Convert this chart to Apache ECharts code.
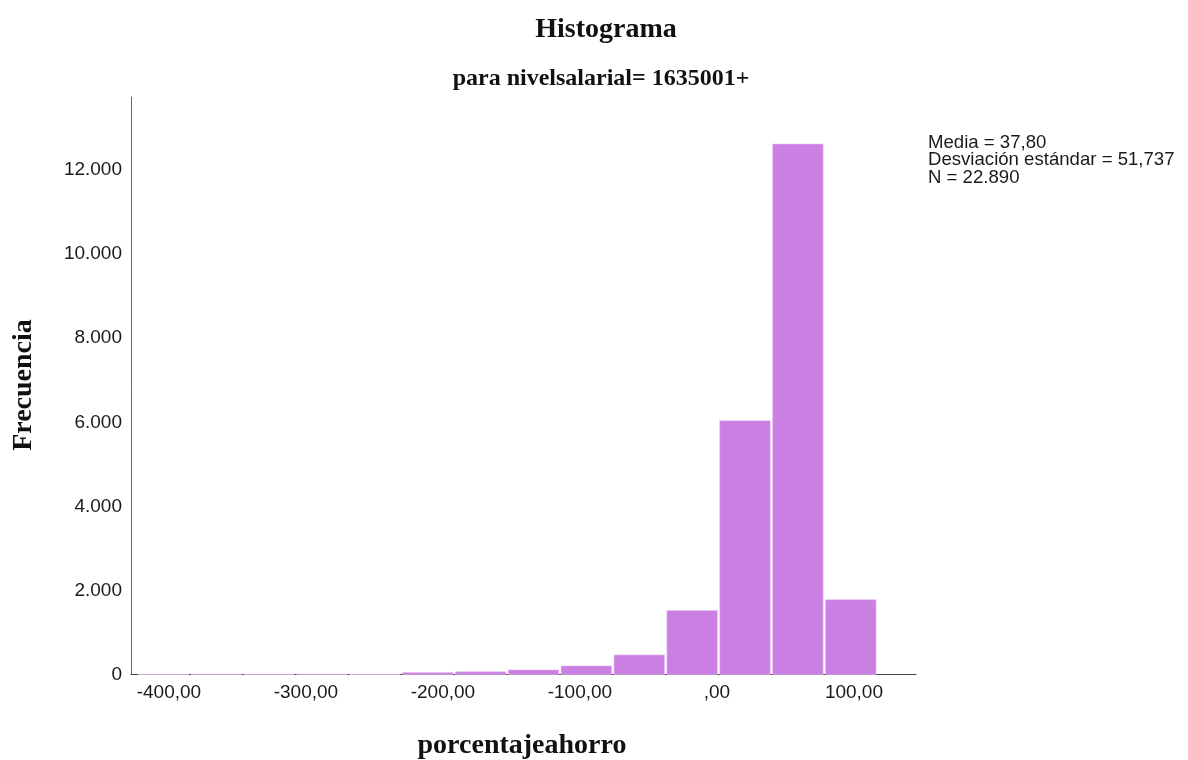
<!DOCTYPE html>
<html>
<head>
<meta charset="utf-8">
<script src="https://cdn.jsdelivr.net/npm/echarts@6/dist/echarts.min.js"></script>
<style>
  html, body { margin: 0; padding: 0; background: #ffffff; }
  #chart { width: 1188px; height: 760px; }
</style>
</head>
<body>
<div id="chart"></div>
<script>
// ---- data ----
const binStarts = [-423.4, -384.8, -346.2, -307.6, -269.0, -230.4, -191.8, -153.2, -114.6, -76.0, -37.4, 1.2, 39.8, 78.4];
const binEnds   = [-384.8, -346.2, -307.6, -269.0, -230.4, -191.8, -153.2, -114.6, -76.0, -37.4, 1.2, 39.8, 78.4, 117.0];
const counts    = [1, 5, 2, 8, 3, 45, 65, 110, 205, 465, 1520, 6040, 12620, 1780];

const xTickValues = [-400, -300, -200, -100, 0, 100];
const xTickLabels = ['-400,00', '-300,00', '-200,00', '-100,00', ',00', '100,00'];
const yTickValues = [0, 2000, 4000, 6000, 8000, 10000, 12000];
const yTickLabels = ['0', '2.000', '4.000', '6.000', '8.000', '10.000', '12.000'];

const titleText = 'Histograma';
const subtitleText = 'para nivelsalarial= 1635001+';
const xName = 'porcentajeahorro';
const yName = 'Frecuencia';
const statsLines = ['Media = 37,80', 'Desviación estándar = 51,737', 'N = 22.890'];

const histData = binStarts.map((s, i) => [s, binEnds[i], counts[i]]);

const chart = echarts.init(document.getElementById('chart'), null, { renderer: 'canvas' });

const sans = 'Liberation Sans, Arial, sans-serif';
const serif = 'Liberation Serif, Times New Roman, serif';

chart.setOption({
  backgroundColor: '#ffffff',
  animation: false,
  grid: {
    left: 131, right: 272, top: 97, bottom: 85.5,
    containLabel: false,
    outerBoundsMode: 'none'
  },
  xAxis: {
    type: 'value',
    min: -427.7,
    max: 145.3,
    splitLine: { show: false },
    axisTick: { show: false },
    axisLine: { show: true, onZero: false, lineStyle: { color: '#444444', width: 1 } },
    axisLabel: {
      customValues: xTickValues,
      formatter: (v) => {
        const i = xTickValues.indexOf(Math.round(v));
        return i >= 0 ? xTickLabels[i] : '';
      },
      color: '#1a1a1a',
      fontFamily: sans,
      fontSize: 19,
      margin: 9
    }
  },
  yAxis: {
    type: 'value',
    min: 0,
    max: 13740,
    splitLine: { show: false },
    axisTick: { show: false },
    axisLine: { show: true, onZero: false, lineStyle: { color: '#666666', width: 1 } },
    axisLabel: {
      customValues: yTickValues,
      formatter: (v) => {
        const i = yTickValues.indexOf(Math.round(v));
        return i >= 0 ? yTickLabels[i] : '';
      },
      color: '#1a1a1a',
      fontFamily: sans,
      fontSize: 19,
      margin: 9
    }
  },
  series: [{
    type: 'custom',
    data: histData,
    encode: { x: [0, 1], y: 2 },
    renderItem: (params, api) => {
      const base = api.coord([api.value(0), 0]);
      const top = api.coord([api.value(1), api.value(2)]);
      const x0 = base[0] + 1.2;
      const w = top[0] - base[0] - 2.4;
      return {
        type: 'rect',
        shape: { x: x0, y: top[1], width: w, height: base[1] - top[1] },
        style: { fill: '#cc7fe3', stroke: '#e6b8f1', lineWidth: 0.6 }
      };
    },
    z: 2
  }],
  graphic: [
    {
      type: 'text', x: 606, y: 30,
      style: { text: titleText, font: 'bold 28px ' + serif, fill: '#111111', textAlign: 'center', textVerticalAlign: 'middle' }
    },
    {
      type: 'text', x: 601, y: 79,
      style: { text: subtitleText, font: 'bold 24px ' + serif, fill: '#111111', textAlign: 'center', textVerticalAlign: 'middle' }
    },
    {
      type: 'text', x: 522, y: 746,
      style: { text: xName, font: 'bold 28px ' + serif, fill: '#111111', textAlign: 'center', textVerticalAlign: 'middle' }
    },
    {
      type: 'text', x: 24, y: 385, rotation: Math.PI / 2,
      style: { text: yName, font: 'bold 28px ' + serif, fill: '#111111', textAlign: 'center', textVerticalAlign: 'middle' }
    },
    {
      type: 'text', x: 928, y: 134,
      style: { text: statsLines.join('\n'), font: '18.6px ' + sans, lineHeight: 17.5, fill: '#1a1a1a', textAlign: 'left', textVerticalAlign: 'top' }
    }
  ]
});
</script>
</body>
</html>
